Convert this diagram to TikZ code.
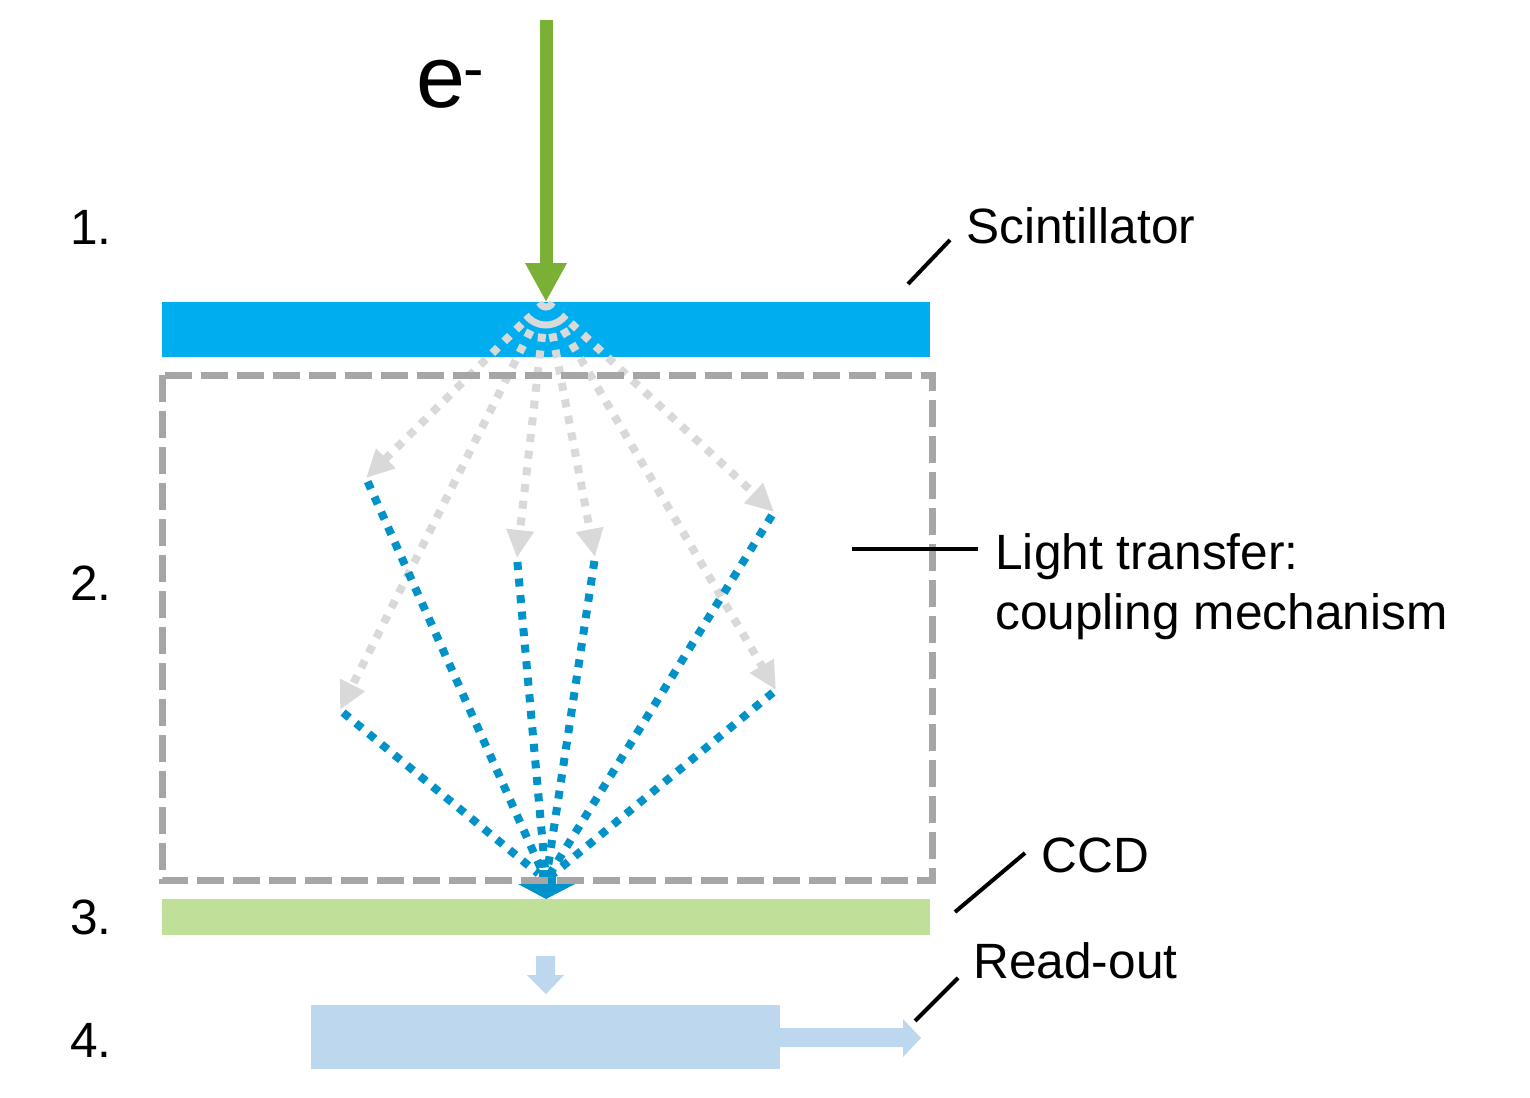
\documentclass[tikz,border=0pt]{standalone}
\usepackage{fontspec}
\setmainfont{Liberation Sans}
\usetikzlibrary{arrows.meta}
\definecolor{scintc}{RGB}{0,174,239}
\definecolor{ccdc}{RGB}{192,223,153}
\definecolor{readc}{RGB}{189,215,238}
\definecolor{boxgray}{RGB}{166,166,166}
\definecolor{raygray}{RGB}{217,217,217}
\definecolor{rayblue}{RGB}{0,146,201}
\definecolor{egreen}{RGB}{122,176,54}
\tikzset{
  grayray/.style={draw=raygray, line width=4pt, dash pattern=on 4pt off 4.4pt,
    shorten <=17pt, -{Triangle[length=14pt,width=13pt]}},
  blueray/.style={draw=rayblue, line width=4pt, dash pattern=on 4pt off 4.3pt,
    shorten <=2pt, shorten >=5pt},
  leader/.style={draw=black, line width=2pt},
  lbl/.style={inner sep=0pt, anchor=base west, font=\fontsize{24.8}{30}\selectfont},
}
\begin{document}
\begin{tikzpicture}[x=0.5pt,y=-0.5pt]
\useasboundingbox (0,0) rectangle (1530,1097);
% layers
\fill[scintc] (162,302) rectangle (930,357);
\fill[ccdc] (162,899) rectangle (930,935);
\fill[readc] (311,1005) rectangle (780,1069);
% small down arrow
\fill[readc] (536,956) -- (555,956) -- (555,975) -- (564,975) -- (546,994) -- (527,975) -- (536,975) -- cycle;
% right arrow
\fill[readc] (779,1028) -- (903,1028) -- (903,1019) -- (921,1038) -- (903,1057) -- (903,1047) -- (779,1047) -- cycle;
% coordinates
\coordinate (O) at (546,300);
\coordinate (F) at (546,880);
\coordinate (g1) at (366,478);
\coordinate (g2) at (517,558);
\coordinate (g3) at (595,557);
\coordinate (g4) at (774,512);
\coordinate (g5) at (340,710);
\coordinate (g6) at (776,690);
% arcs in scintillator
\draw[raygray, line width=3.5pt] ([shift={(200:3.5pt)}]O) arc[start angle=200, end angle=340, radius=3.5pt];
\draw[raygray, line width=3.5pt] ([shift={(217:12.5pt)}]O) arc[start angle=217, end angle=323, radius=12.5pt];
% gray rays
\foreach \g in {g1,g2,g3,g4,g5,g6} \draw[grayray] (O) -- (\g);
% blue rays
\foreach \g in {g1,g2,g3,g4,g5,g6} \draw[blueray] (\g) -- (F);
% blue block arrow
\fill[rayblue] (539,870) -- (556,870) -- (556,884) -- (575,884) -- (546,899) -- (518,884) -- (539,884) -- cycle;
% dashed box
\draw[boxgray, line width=3.5pt, dash pattern=on 13.5pt off 4.5pt] (162,375) rectangle (932,880);
% electron beam
\coordinate (etop) at (546,20);
\coordinate (ebot) at (546,302);
\draw[egreen, line width=6.5pt, -{Triangle[length=19.5pt,width=19.5pt]}] (etop) -- (ebot);
\node[inner sep=0pt, anchor=base west, font=\fontsize{44}{50}\selectfont] (e) at (416,108) {e\kern-1pt\textsuperscript{-}};
% leaders
\coordinate (s1) at (908,284); \coordinate (s2) at (950,240);
\coordinate (l1) at (852,549); \coordinate (l2) at (978,549);
\coordinate (c1) at (955,912); \coordinate (c2) at (1025,853);
\coordinate (r1) at (915,1021); \coordinate (r2) at (958,978);
\draw[leader] (s1) -- (s2);
\draw[leader] (l1) -- (l2);
\draw[leader] (c1) -- (c2);
\draw[leader] (r1) -- (r2);
% labels
\node[lbl] (tscint) at (966,243) {Scintillator};
\node[lbl] (tlight) at (995,569) {Light transfer:};
\node[lbl] (tcoup) at (995,629) {coupling mechanism};
\node[lbl] (tccd) at (1041,872) {CCD};
\node[lbl] (tread) at (973,978) {Read-out};
\node[lbl] (n1) at (70,244) {1.};
\node[lbl] (n2) at (70,600) {2.};
\node[lbl] (n3) at (70,934) {3.};
\node[lbl] (n4) at (70,1057) {4.};
\end{tikzpicture}
\end{document}
